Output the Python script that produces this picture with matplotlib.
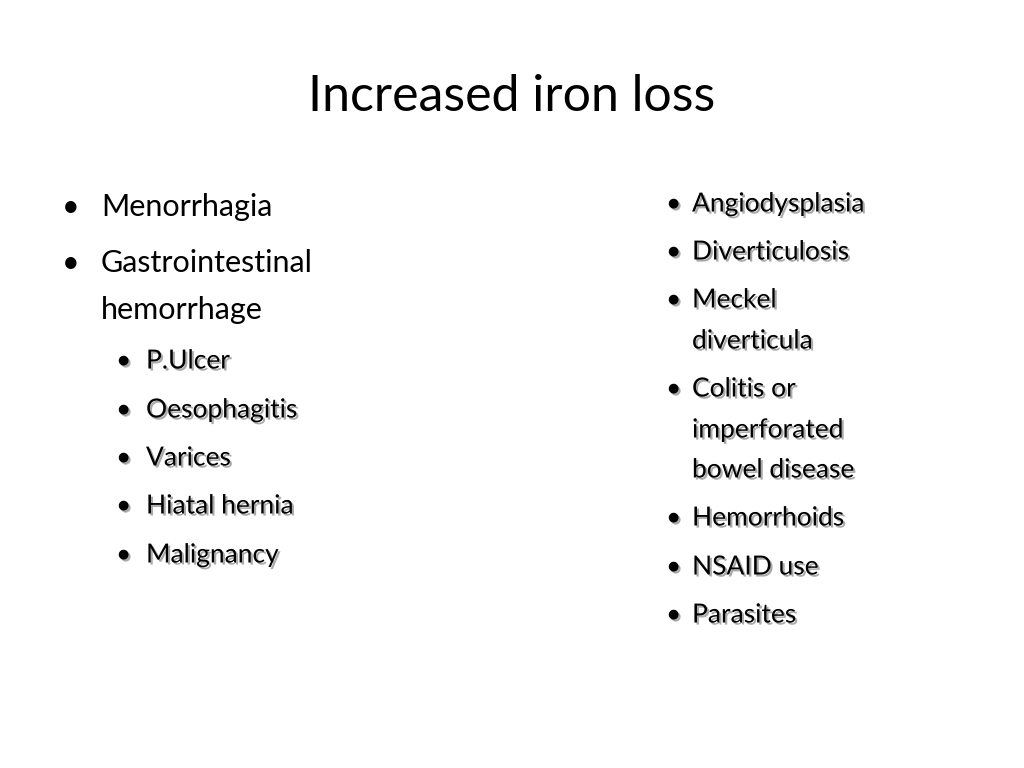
import matplotlib
matplotlib.use("Agg")
import matplotlib.pyplot as plt
import matplotlib.patheffects as pe

title = "Increased iron loss"
left_main = [("Menorrhagia", 207), ("Gastrointestinal", 263), ("hemorrhage", 310)]
left_main_bullets = [207, 263]
left_sub = ["P.Ulcer", "Oesophagitis", "Varices", "Hiatal hernia", "Malignancy"]
left_sub_y = [361, 410, 458, 506, 555]
right_lines = [("Angiodysplasia", 204, True), ("Diverticulosis", 252, True), ("Meckel", 300, True),
               ("diverticula", 341, False), ("Colitis or", 389, True), ("imperforated", 430, False),
               ("bowel disease", 470, False), ("Hemorrhoids", 518, True), ("NSAID use", 567, True),
               ("Parasites", 615, True)]

fig = plt.figure(figsize=(10.24, 7.68), dpi=100)
ax = fig.add_axes([0, 0, 1, 1])
ax.set_xlim(0, 1024); ax.set_ylim(768, 0); ax.axis("off")
F = "Lato"
sh = [pe.SimplePatchShadow(offset=(1.5, -1.5), shadow_rgbFace="#aaaaaa", alpha=1), pe.Normal()]

ax.text(512, 97, title, fontsize=36, family=F, ha="center", va="center", color="black")
for t, y in left_main:
    ax.text(101, y, t, fontsize=22, family=F, va="center")
for y in left_main_bullets:
    ax.text(62, y, "•", fontsize=22, family=F, va="center")
for t, y in zip(left_sub, left_sub_y):
    ax.text(116, y, "•", fontsize=19, family=F, va="center", path_effects=sh)
    ax.text(146, y, t, fontsize=19, family=F, va="center", path_effects=sh)
for t, y, b in right_lines:
    if b:
        ax.text(666, y, "•", fontsize=19, family=F, va="center", path_effects=sh)
    ax.text(692, y, t, fontsize=19, family=F, va="center", path_effects=sh)
fig.savefig("out.png", dpi=100)
